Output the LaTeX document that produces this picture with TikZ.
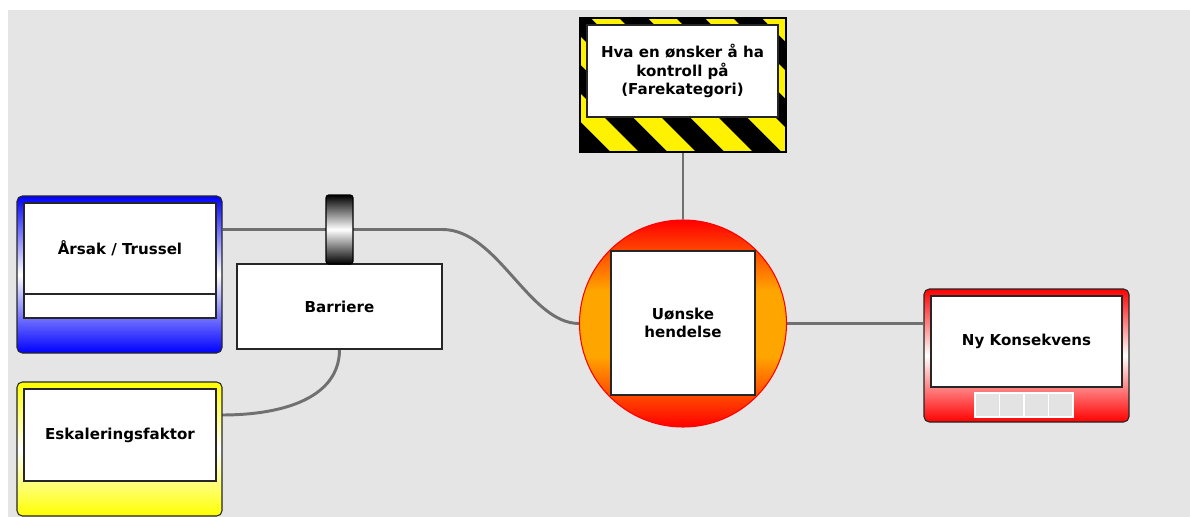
\documentclass[tikz,border=0pt]{standalone}
\usepackage{fontspec}
\setmainfont{DejaVu Sans}
\pgfdeclarelayer{bg}
\pgfsetlayers{bg,main}
\definecolor{bggray}{HTML}{E5E5E5}
\definecolor{linegray}{HTML}{707070}
\definecolor{myorange}{HTML}{FFA500}
\definecolor{sqgray}{HTML}{E3E3E3}
\pgfdeclareverticalshading{evtshade}{100bp}{color(0bp)=(red); color(25bp)=(red); color(42bp)=(myorange); color(58bp)=(myorange); color(75bp)=(red); color(100bp)=(red)}
\begin{document}
\begin{tikzpicture}[x=0.75pt,y=-0.75pt,
  outerbox/.style={draw=black!85, line width=0.8pt, rounded corners=4pt, inner sep=0pt},
  innerbox/.style={draw=black!85, line width=0.8pt, fill=white, inner sep=0pt},
  lbl/.style={font=\fontsize{11.3}{13.8}\selectfont\bfseries, align=center, inner sep=0pt},
  connector/.style={draw=linegray, line width=2.2pt},
  sq/.style={fill=sqgray, draw=white, line width=1pt, minimum width=24.5*0.75pt, minimum height=24*0.75pt, inner sep=0pt}]
\useasboundingbox (0,0) rectangle (1190,517);
\begin{pgfonlayer}{bg}
\fill[bggray] (8,10) rectangle (1190,517);
\end{pgfonlayer}

% Arsak / Trussel
\node (arsak) [outerbox, top color=blue, bottom color=blue, middle color=white,
  minimum width=205*0.75pt, minimum height=157*0.75pt] at (119.5,274.5) {};
\node (arsakin) [innerbox, minimum width=192*0.75pt, minimum height=115*0.75pt] at (120,260.5) {};
\draw[black!85, line width=0.8pt] (arsakin.west |- 0,294) -- (arsakin.east |- 0,294);
\node (arsaklbl) [lbl] at (120,248) {Årsak / Trussel};

% Eskaleringsfaktor
\node (eskal) [outerbox, top color=yellow, bottom color=yellow, middle color=white,
  minimum width=205*0.75pt, minimum height=134*0.75pt] at (119.5,449) {};
\node (eskalin) [innerbox, lbl, minimum width=192*0.75pt, minimum height=92*0.75pt] at (120,435) {Eskaleringsfaktor};

% Barriere
\node (barrier) [innerbox, lbl, minimum width=205*0.75pt, minimum height=85*0.75pt] at (339.5,306.5) {Barriere};
\node (clamp) [draw=black, line width=0.8pt, rounded corners=2pt, top color=black, bottom color=black, middle color=white,
  minimum width=27*0.75pt, minimum height=69*0.75pt, inner sep=0pt] at (339.5,229.5) {};

% Warning sign
\node (warn) [draw=black, line width=0.8pt, fill=yellow, minimum width=206*0.75pt, minimum height=134*0.75pt, inner sep=0pt] at (683,85) {};
\begin{scope}
\clip (580,18) rectangle (786,152);
\foreach \k in {-1,...,5}{
  \pgfmathsetmacro{\s}{505+57*\k}
  \fill[black] (\s,18) -- (\s+28.5,18) -- (\s+162.5,152) -- (\s+134,152) -- cycle;
}
\end{scope}
\draw[black, line width=0.8pt] (warn.south west) rectangle (warn.north east);
\node (warnin) [innerbox, lbl, minimum width=191*0.75pt, minimum height=92*0.75pt] at (682.5,71) {Hva en ønsker å ha\\kontroll på\\(Farekategori)};

% Event
\node (evt) [circle, draw=red, line width=0.8pt, shading=evtshade,
  minimum size=207*0.75pt, inner sep=0pt] at (683,323.5) {};
\node (evtin) [innerbox, lbl, minimum width=144*0.75pt, minimum height=144*0.75pt] at (683,323) {Uønske\\hendelse};

% Ny Konsekvens
\node (ny) [outerbox, top color=red, bottom color=red, middle color=white,
  minimum width=205*0.75pt, minimum height=133*0.75pt] at (1026.5,355.5) {};
\node (nyin) [innerbox, lbl, minimum width=191*0.75pt, minimum height=91*0.75pt] at (1026.5,341.5) {Ny Konsekvens};
\node (sq1) [sq] at (987.25,405) {};
\node (sq2) [sq] at (1011.75,405) {};
\node (sq3) [sq] at (1036.25,405) {};
\node (sq4) [sq] at (1060.75,405) {};

% connectors
\coordinate (bend) at (barrier.east |- clamp.center);
\coordinate (eskin) at (222,415);
\begin{pgfonlayer}{bg}
\draw[connector] (arsak.east |- clamp.center) -- (bend) .. controls +(55,0) and +(-50,0) .. (evt.west);
\draw[connector] (barrier.south) .. controls +(0,48) and +(62,0) .. (eskin);
\draw[connector] (warn.south) -- (evt.north);
\draw[connector] (evt.east) -- (ny.west |- evt.east);
\end{pgfonlayer}
\end{tikzpicture}
\end{document}
